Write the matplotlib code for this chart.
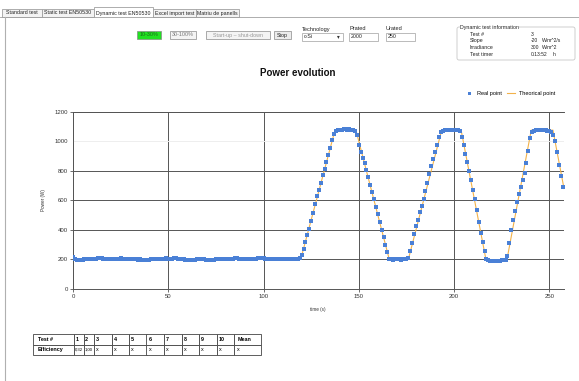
import matplotlib
matplotlib.use("Agg")
import matplotlib.pyplot as plt
from matplotlib.patches import Rectangle, FancyBboxPatch

plt.rcParams['font.family'] = ['Liberation Sans', 'DejaVu Sans']

# ---- data ----
# real measured power, one sample per second (W)
real_power = [
    214, 206, 197, 193, 195, 198, 200, 201, 202, 200,
    201, 203, 205, 207, 209, 208, 206, 204, 203, 205,
    206, 205, 203, 204, 206, 207, 206, 205, 204, 203,
    202, 204, 205, 201, 199, 200, 197, 195, 194, 196,
    199, 202, 203, 201, 204, 206, 205, 204, 206, 207,
    205, 204, 206, 208, 207, 205, 203, 204, 202, 199,
    196, 194, 193, 196, 199, 201, 203, 202, 201, 200,
    198, 196, 195, 194, 197, 200, 202, 203, 204, 203,
    205, 206, 205, 204, 206, 207, 208, 206, 205, 204,
    203, 204, 205, 206, 204, 203, 205, 207, 208, 209,
    207, 205, 204, 203, 204, 203, 205, 206, 205, 204,
    205, 206, 205, 204, 205, 206, 205, 204, 205, 210,
    # first ramp up / plateau / ramp down
    228, 270, 318, 365, 405, 460, 515, 575, 630, 672,
    720, 770, 812, 860, 905, 955, 1010, 1050, 1068, 1074,
    1078, 1077, 1080, 1082, 1079, 1081, 1078, 1076, 1072, 1040,
    975, 925, 890, 850, 805, 760, 705, 655, 608, 555,
    505, 452, 400, 350, 298, 250, 205, 201, 199, 200,
    202, 200, 199, 201, 203, 204, 208,
    # second cycle
    255, 310, 370, 425, 470, 520, 565, 610, 665, 720,
    780, 830, 880, 925, 975, 1030, 1062, 1070, 1074, 1076,
    1075, 1074, 1076, 1075, 1073, 1074, 1068, 1030, 975, 915,
    860, 800, 735, 670, 612, 535, 455, 380, 318, 255,
    202, 194, 192, 191, 190, 191, 190, 192, 193, 195,
    196,
    # third cycle
    220, 310, 400, 465, 530, 590, 640, 690, 740, 785,
    850, 935, 1020, 1060, 1070, 1074, 1076, 1075, 1077, 1076,
    1075, 1072, 1070, 1065, 1045, 1000, 930, 840, 765, 690,
]
time_s = list(range(len(real_power)))

# theoretical curve (corner points)
theo_time = [0, 119.5, 137.5, 148.5, 166, 176, 193.5, 203.7, 216.8, 227.7, 240.5, 251.9, 257.7]
theo_power = [200, 200, 1075, 1075, 200, 200, 1075, 1075, 195, 195, 1075, 1075, 680]

x_ticks = [0, 50, 100, 150, 200, 250]
y_ticks = [0, 200, 400, 600, 800, 1000, 1200]

tab_names = ["Standard test", "Static test EN50530", "Dynamic test EN50530",
             "Excel import test", "Matriu de panells"]
tab_edges = [2, 42, 94, 153, 196, 239]

info_labels = ["Test #", "Slope", "Irradiance", "Test timer"]
info_values = ["3", "-20", "300", "0:13:52"]
info_units = ["", "W/m^2/s", "W/m^2", "h"]

table_header = ["Test #", "1", "2", "3", "4", "5", "6", "7", "8", "9", "10", "Mean"]
table_eff = ["Efficiency", "0,32", "1,00", "x", "x", "x", "x", "x", "x", "x", "x", "x"]
table_col_px = [41, 10, 10, 17.5, 17.5, 17.5, 17.5, 17.5, 17.5, 17.5, 17.5, 27]

W, H = 579, 381
fig = plt.figure(figsize=(W / 100, H / 100), dpi=100)
fig.patch.set_facecolor('white')

# overlay axes in pixel units for the window widgets
gui = fig.add_axes([0, 0, 1, 1])
gui.set_xlim(0, W)
gui.set_ylim(H, 0)
gui.axis('off')

# tabs
for i, name in enumerate(tab_names):
    x0, x1 = tab_edges[i], tab_edges[i + 1]
    top = 7 if i == 2 else 9
    gui.add_patch(Rectangle((x0, top), x1 - x0, 17 - top, facecolor='white' if i == 2 else '#f3f3f3',
                            edgecolor='#a0a0a0', lw=0.6))
    gui.text((x0 + x1) / 2, 13, name, fontsize=3.8, ha='center', va='center', color='#222')
gui.plot([0, 94], [17, 17], color='#a0a0a0', lw=0.6)
gui.plot([153, W], [17, 17], color='#a0a0a0', lw=0.6)
gui.plot([5, 5], [17, H], color='#b0b0b0', lw=0.8)

# buttons
def button(x0, x1, label, face='#ececec', color='#222'):
    gui.add_patch(Rectangle((x0, 31), x1 - x0, 8, facecolor=face, edgecolor='#8a8a8a', lw=0.5))
    gui.text((x0 + x1) / 2, 35, label, fontsize=3.9, ha='center', va='center', color=color)

button(137, 161, "10-30%", face='#22e022', color='#1a6a1a')
button(170, 196, "30-100%", face='#f4f4f4', color='#777')
button(206, 270, "Start-up \u2013 shut-down", face='#f4f4f4', color='#999')
button(274, 291, "Stop")

# technology / rated values
gui.text(302, 29, "Technology", fontsize=4.1, va='center', color='#222')
gui.add_patch(Rectangle((302, 33), 41, 8, facecolor='white', edgecolor='#a0a0a0', lw=0.5))
gui.text(304, 37, "c-Si", fontsize=3.8, va='center', color='#222')
gui.text(338, 37, "\u25be", fontsize=4, va='center', ha='center', color='#333')
gui.text(349, 29, "Prated", fontsize=4.1, va='center', color='#222')
gui.add_patch(Rectangle((349, 33), 29, 7.5, facecolor='white', edgecolor='#a0a0a0', lw=0.5))
gui.text(351, 36.8, "2000", fontsize=3.8, va='center', color='#222')
gui.text(386, 29, "Urated", fontsize=4.1, va='center', color='#222')
gui.add_patch(Rectangle((386, 33), 29, 7.5, facecolor='white', edgecolor='#a0a0a0', lw=0.5))
gui.text(388, 36.8, "250", fontsize=3.8, va='center', color='#222')

# info group box
gui.add_patch(FancyBboxPatch((457, 27), 118, 33, boxstyle='round,pad=0,rounding_size=2',
                             facecolor='white', edgecolor='#c8c8c8', lw=0.6))
gui.text(460, 27, "Dynamic test information", fontsize=3.8, va='center', color='#222',
         bbox=dict(facecolor='white', edgecolor='none', pad=0.3))
info_unit_x = [542, 542, 542, 553]
for i, lab in enumerate(info_labels):
    y = 34 + i * 6.7
    gui.text(470, y, lab, fontsize=3.8, va='center', color='#222')
    gui.text(531, y, info_values[i], fontsize=3.6, va='center', color='#222')
    gui.text(info_unit_x[i], y, info_units[i], fontsize=3.6, va='center', color='#222')

# ---- power chart ----
ax = fig.add_axes([73 / W, 1 - 289 / H, 491 / W, 177.3 / H])
ax.plot(theo_time, theo_power, color='#f2b24a', lw=0.8, label='Theorical point', zorder=2)
ax.plot(time_s, real_power, 's', ms=2.7, mew=0, color='#4a80d6', label='Real point', zorder=3)

ax.set_xlim(0, 257.7)
ax.set_ylim(0, 1200)
ax.set_xticks(x_ticks)
ax.set_yticks(y_ticks)
ax.grid(True, color='#555555', lw=0.7)
ax.set_axisbelow(True)
ax.yaxis.get_gridlines()[5].set_color('#eeeeee')
ax.yaxis.get_major_ticks()[5].tick1line.set_visible(False)
for side in ['left', 'bottom', 'top']:
    ax.spines[side].set_color('#555555')
    ax.spines[side].set_linewidth(0.7)
ax.spines['right'].set_visible(False)
ax.tick_params(labelsize=4.3, length=2.2, width=0.6, color='#555555', labelcolor='#333', pad=1.5)

fig.text(298 / W, 1 - 73 / H, "Power evolution", fontsize=7.0, fontweight='bold',
         ha='center', va='center', color='#111')
fig.text(43 / W, 1 - 200 / H, "Power (W)", fontsize=3.3, rotation=90, ha='center', va='center', color='#333')
fig.text(318 / W, 1 - 309 / H, "time (s)", fontsize=3.3, ha='center', va='center', color='#333')

h_theo, h_real = ax.get_lines()[0], ax.get_lines()[1]
ax.legend([h_real, h_theo], ['Real point', 'Theorical point'], loc='center right',
          bbox_to_anchor=(0.992, 1.105), ncol=2, frameon=False, fontsize=4.0,
          handlelength=1.5, columnspacing=1.0, handletextpad=0.6, markerscale=0.8)

# ---- efficiency table ----
tx0, ty0, tw, th = 33, 334, sum(table_col_px), 21
tab = gui.table(cellText=[table_header, table_eff], colWidths=[c / tw for c in table_col_px],
                cellLoc='left',
                bbox=[tx0 / W, 1 - (ty0 + th) / H, tw / W, th / H])
tab.auto_set_font_size(False)
for (r, c), cell in tab.get_celld().items():
    cell.set_edgecolor('#444444')
    cell.set_linewidth(0.6)
    cell.PAD = 0.12
    cell.get_text().set_fontsize(3.9)
    if r == 0 or c == 0:
        cell.get_text().set_fontweight('bold')
    if r == 1 and c in (1, 2):
        cell.PAD = 0.06
        cell.get_text().set_fontsize(3.1)

fig.savefig('out.png', dpi=100, facecolor='white')
